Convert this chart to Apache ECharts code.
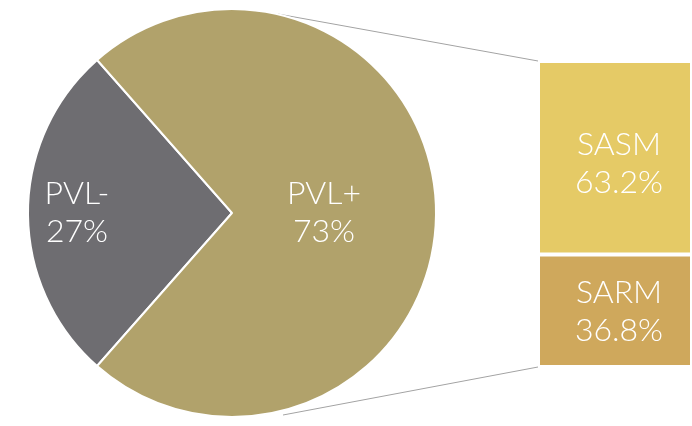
<!DOCTYPE html>
<html>
<head>
<meta charset="utf-8">
<script src="https://cdn.jsdelivr.net/npm/echarts@6/dist/echarts.min.js"></script>
<style>
  html, body { margin: 0; padding: 0; background: #fff; }
  #chart { width: 692px; height: 426px; }
</style>
</head>
<body>
<div id="chart"></div>
<script>
// pie: PVL split
var pieNames = ["PVL-", "PVL+"];
var pieValues = [27, 73];
var pieColors = ["#6e6d71", "#b1a26b"];

// stacked bar: breakdown of PVL+
var barNames = ["SARM", "SASM"];
var barValues = [36.8, 63.2];
var barColors = ["#cfa85c", "#e5ca66"];

var font = "Lato";
var labelDx = [-50, -13];
var barLabelDy = [1, 6];

var myChart = echarts.init(document.getElementById("chart"));

var barSeries = barNames.map(function (name, i) {
  return {
    type: "bar",
    name: name,
    stack: "pvl",
    barWidth: "100%",
    data: [barValues[i]],
    itemStyle: { color: barColors[i], borderColor: "#fff", borderWidth: 2 },
    label: {
      show: true,
      position: "inside",
      offset: [4, barLabelDy[i]],
      color: "#fff",
      fontFamily: font,
      fontWeight: 300,
      fontSize: 32,
      lineHeight: 38,
      formatter: function (p) { return p.seriesName + "\n" + p.value + "%"; }
    },
    silent: true
  };
});

myChart.setOption({
  animation: false,
  grid: { left: 538, right: 0, top: 61, bottom: 59 },
  xAxis: { type: "category", data: ["PVL+"], show: false },
  yAxis: { type: "value", min: 0, max: 100, show: false },
  series: [
    {
      type: "pie",
      center: [232, 213],
      radius: 204,
      startAngle: 228.6,
      clockwise: true,
      silent: true,
      data: pieNames.map(function (n, i) {
        return { name: n, value: pieValues[i], itemStyle: { color: pieColors[i] } };
      }),
      itemStyle: { borderColor: "#fff", borderWidth: 2 },
      label: {
        show: true,
        position: "inside",
        color: "#fff",
        fontFamily: font,
        fontWeight: 300,
        fontSize: 32,
        lineHeight: 38,
        formatter: "{b}\n{c}%"
      },
      labelLayout: function (p) {
        return { dx: labelDx[p.dataIndex], dy: 0 };
      },
      labelLine: { show: false }
    }
  ].concat(barSeries),
  graphic: [
    { type: "line", shape: { x1: 278, y1: 14, x2: 538, y2: 61 }, style: { stroke: "#a3a3a3", lineWidth: 1 } },
    { type: "line", shape: { x1: 283, y1: 415, x2: 538, y2: 367 }, style: { stroke: "#a3a3a3", lineWidth: 1 } }
  ]
});
</script>
</body>
</html>
